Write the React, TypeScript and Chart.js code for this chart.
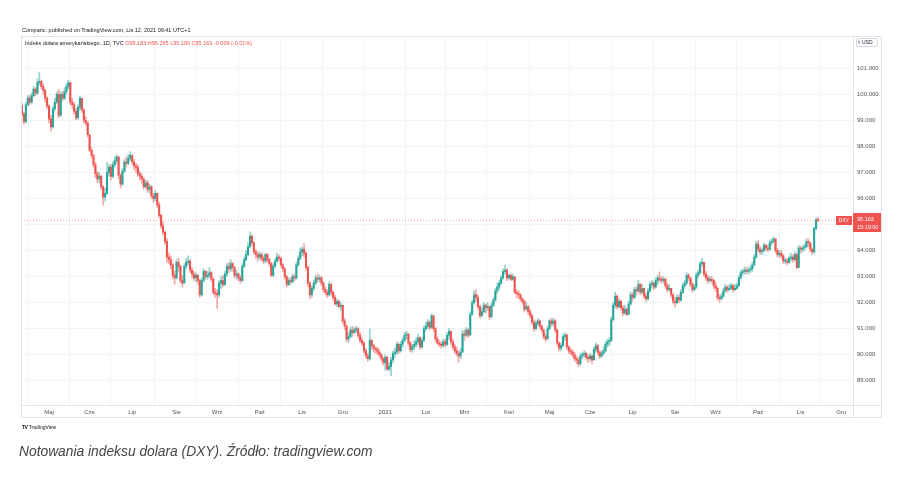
import React, { useEffect, useRef } from 'react';
import { Chart, registerables } from 'chart.js';
Chart.register(...registerables);

// Daily DXY candles, mid-April 2020 .. 12 Nov 2021 (index = trading day)
const CLOSE = [
  99.25, 98.95, 99.60, 99.85, 99.70, 99.95, 100.20, 100.05, 100.45, 100.50,
  100.30, 100.15, 99.85, 99.55, 99.05, 98.75, 99.45, 99.70, 100.00, 99.20,
  100.00, 99.85, 100.10, 100.30, 100.45, 99.70, 99.60, 99.35, 99.10, 99.50,
  99.85, 99.40, 99.00, 98.90, 98.45, 97.85, 97.65, 97.30, 96.95, 96.75,
  96.85, 96.45, 96.05, 96.20, 97.00, 97.20, 96.85, 97.30, 97.45, 97.60,
  96.90, 96.55, 97.05, 97.40, 97.35, 97.55, 97.65, 97.40, 97.25, 97.20,
  96.95, 96.85, 96.75, 96.45, 96.60, 96.35, 96.45, 96.10, 96.00, 96.20,
  95.75, 95.35, 94.95, 94.70, 94.35, 93.75, 93.65, 93.45, 93.05, 92.95,
  93.55, 93.40, 92.85, 92.75, 93.40, 93.55, 93.60, 93.25, 93.10, 92.95,
  93.05, 92.85, 92.30, 92.85, 93.20, 93.00, 93.05, 93.15, 92.90, 92.40,
  92.35, 92.30, 92.75, 92.85, 92.70, 93.10, 93.40, 93.30, 93.50, 93.35,
  93.05, 93.10, 92.95, 92.85, 93.40, 93.65, 93.85, 94.15, 94.55, 94.30,
  93.95, 93.85, 93.75, 93.85, 93.70, 93.60, 93.85, 93.65, 93.50, 93.05,
  93.40, 93.60, 93.75, 93.70, 93.45, 93.30, 93.00, 92.70, 92.85, 92.80,
  93.00, 92.95, 93.45, 93.70, 93.95, 94.05, 93.90, 93.35, 92.75, 92.30,
  92.55, 92.75, 92.95, 92.90, 92.95, 92.75, 92.50, 92.40, 92.30, 92.70,
  92.40, 92.20, 91.95, 92.05, 91.85, 91.90, 91.30, 91.10, 90.60, 90.70,
  90.95, 90.85, 90.95, 91.00, 90.75, 90.55, 90.45, 90.15, 89.95, 89.85,
  90.55, 90.35, 90.25, 90.20, 90.10, 90.00, 89.85, 89.70, 89.90, 89.45,
  89.55, 89.80, 90.05, 90.10, 90.40, 90.15, 90.40, 90.55, 90.75, 90.80,
  90.45, 90.20, 90.30, 90.40, 90.50, 90.65, 90.30, 90.55, 91.00, 91.10,
  91.25, 91.05, 91.50, 91.00, 90.60, 90.45, 90.40, 90.35, 90.50, 90.40,
  90.75, 90.90, 90.50, 90.30, 90.15, 90.05, 89.95, 90.10, 90.80, 90.75,
  90.95, 90.75, 91.55, 92.00, 92.30, 92.20, 91.85, 91.50, 91.65, 91.90,
  91.80, 91.85, 91.45, 91.90, 92.10, 92.45, 92.60, 92.75, 92.95, 93.20,
  93.25, 92.95, 93.05, 92.90, 93.00, 92.40, 92.35, 92.30, 92.15, 92.05,
  91.75, 91.85, 91.65, 91.50, 91.25, 91.00, 91.20, 91.30, 91.10, 90.95,
  90.70, 90.60, 91.00, 91.30, 91.20, 91.30, 90.95, 90.45, 90.25, 90.35,
  90.70, 90.75, 90.30, 90.15, 90.10, 90.00, 89.85, 89.80, 89.65, 89.95,
  90.00, 90.05, 89.90, 89.85, 89.95, 89.80, 90.20, 90.35, 90.10, 89.95,
  90.05, 90.15, 90.40, 90.50, 90.55, 91.35, 91.90, 92.25, 91.85, 92.05,
  91.80, 91.60, 91.75, 91.55, 91.95, 92.30, 92.20, 92.50, 92.45, 92.70,
  92.40, 92.55, 92.25, 92.15, 92.45, 92.70, 92.75, 92.60, 92.85, 92.95,
  92.90, 92.85, 92.90, 92.65, 92.50, 92.55, 92.30, 92.05, 92.00, 92.20,
  92.10, 92.40, 92.65, 92.75, 93.05, 92.95, 92.70, 92.50, 92.60, 93.05,
  93.15, 93.50, 93.55, 93.10, 92.95, 92.85, 92.90, 92.85, 92.65, 92.55,
  92.20, 92.15, 92.25, 92.45, 92.60, 92.50, 92.55, 92.65, 92.50, 92.55,
  92.65, 92.95, 93.15, 93.20, 93.25, 93.20, 93.25, 93.30, 93.45, 93.75,
  94.25, 94.05, 93.95, 94.00, 94.20, 94.10, 94.05, 94.30, 94.35, 94.45,
  94.00, 93.85, 93.90, 93.80, 93.60, 93.60, 93.55, 93.70, 93.75, 93.65,
  93.85, 93.35, 94.10, 94.05, 94.10, 94.15, 94.35, 94.30, 94.05, 93.95,
  94.85, 95.183, 95.163,
];

const HIGH = [
  99.65, 99.30, 99.70, 99.95, 99.95, 100.05, 100.30, 100.25, 100.60, 100.85,
  100.55, 100.40, 100.20, 99.90, 99.60, 99.20, 99.55, 99.85, 100.10, 100.20,
  100.10, 100.10, 100.25, 100.40, 100.55, 100.45, 99.85, 99.70, 99.45, 99.60,
  99.93, 99.85, 99.45, 99.15, 98.95, 98.40, 97.95, 97.70, 97.40, 97.05,
  97.00, 96.90, 96.50, 96.40, 97.40, 97.30, 97.30, 97.40, 97.60, 97.68,
  97.60, 96.95, 97.15, 97.50, 97.60, 97.70, 97.80, 97.70, 97.50, 97.35,
  97.30, 97.05, 96.95, 96.80, 96.70, 96.70, 96.55, 96.50, 96.20, 96.30,
  96.20, 95.85, 95.40, 95.10, 94.75, 94.45, 93.90, 93.80, 93.50, 93.20,
  93.65, 93.70, 93.45, 93.05, 93.50, 93.70, 93.80, 93.65, 93.35, 93.20,
  93.15, 93.10, 92.90, 92.95, 93.30, 93.25, 93.20, 93.35, 93.20, 92.95,
  92.55, 92.50, 92.85, 93.00, 93.05, 93.20, 93.50, 93.55, 93.65, 93.55,
  93.40, 93.25, 93.15, 93.05, 93.50, 93.75, 94.00, 94.30, 94.72, 94.60,
  94.35, 94.05, 93.95, 93.95, 93.90, 93.80, 93.90, 93.90, 93.70, 93.55,
  93.50, 93.70, 93.90, 93.85, 93.75, 93.50, 93.35, 93.05, 92.95, 92.95,
  93.10, 93.10, 93.55, 93.80, 94.10, 94.14, 94.27, 93.95, 93.40, 92.80,
  92.65, 92.85, 93.05, 93.10, 93.05, 93.00, 92.80, 92.60, 92.50, 92.80,
  92.75, 92.45, 92.30, 92.15, 92.10, 92.00, 91.90, 91.40, 91.15, 90.85,
  91.05, 91.10, 91.05, 91.10, 91.05, 90.85, 90.65, 90.50, 90.25, 90.05,
  91.00, 90.60, 90.40, 90.30, 90.30, 90.20, 90.05, 89.90, 90.00, 89.95,
  89.70, 89.90, 90.15, 90.25, 90.50, 90.45, 90.50, 90.65, 90.85, 90.90,
  90.80, 90.50, 90.40, 90.55, 90.65, 90.80, 90.70, 90.65, 91.10, 91.25,
  91.35, 91.30, 91.57, 91.45, 91.05, 90.70, 90.55, 90.50, 90.60, 90.60,
  90.85, 91.00, 90.90, 90.60, 90.40, 90.30, 90.15, 90.25, 90.93, 90.95,
  91.05, 91.00, 91.65, 92.10, 92.45, 92.50, 92.30, 91.90, 91.80, 92.00,
  91.95, 92.00, 91.85, 92.00, 92.20, 92.55, 92.75, 92.85, 93.05, 93.30,
  93.44, 93.30, 93.10, 93.10, 93.10, 92.95, 92.50, 92.45, 92.35, 92.20,
  92.10, 92.00, 91.90, 91.75, 91.55, 91.35, 91.30, 91.40, 91.35, 91.15,
  91.00, 90.80, 91.10, 91.35, 91.40, 91.40, 91.35, 91.00, 90.50, 90.45,
  90.80, 90.85, 90.80, 90.35, 90.25, 90.20, 90.10, 89.95, 89.90, 90.05,
  90.10, 90.16, 90.10, 90.00, 90.05, 90.00, 90.30, 90.45, 90.40, 90.15,
  90.15, 90.30, 90.50, 90.60, 90.65, 91.45, 92.00, 92.40, 92.30, 92.15,
  92.10, 91.90, 91.90, 91.80, 92.05, 92.40, 92.40, 92.60, 92.60, 92.86,
  92.75, 92.70, 92.55, 92.35, 92.55, 92.80, 92.86, 92.80, 92.95, 93.05,
  93.18, 93.00, 93.00, 92.95, 92.75, 92.70, 92.55, 92.35, 92.20, 92.30,
  92.30, 92.50, 92.75, 92.85, 93.15, 93.12, 92.95, 92.80, 92.70, 93.15,
  93.25, 93.60, 93.70, 93.55, 93.20, 93.05, 93.00, 93.00, 92.90, 92.80,
  92.60, 92.30, 92.35, 92.55, 92.70, 92.65, 92.70, 92.75, 92.70, 92.70,
  92.75, 93.05, 93.24, 93.30, 93.37, 93.35, 93.35, 93.40, 93.55, 93.85,
  94.35, 94.40, 94.15, 94.10, 94.30, 94.25, 94.20, 94.40, 94.45, 94.53,
  94.45, 94.10, 94.00, 94.00, 93.85, 93.70, 93.70, 93.80, 93.90, 93.85,
  93.95, 93.90, 94.20, 94.15, 94.20, 94.25, 94.45, 94.45, 94.30, 94.10,
  94.90, 95.25, 95.265,
];

const LOW = [
  99.15, 98.85, 98.90, 99.55, 99.60, 99.65, 99.90, 99.95, 100.00, 100.35,
  100.20, 100.00, 99.70, 99.45, 98.90, 98.58, 98.70, 99.35, 99.65, 99.10,
  99.15, 99.75, 99.80, 100.00, 100.20, 99.60, 99.45, 99.25, 99.03, 99.05,
  99.40, 99.30, 98.90, 98.80, 98.35, 97.80, 97.55, 97.20, 96.80, 96.60,
  96.60, 96.35, 95.73, 95.90, 96.15, 96.85, 96.70, 96.80, 97.20, 97.35,
  96.75, 96.40, 96.50, 97.00, 97.20, 97.30, 97.45, 97.30, 97.10, 97.00,
  96.85, 96.70, 96.60, 96.35, 96.40, 96.25, 96.20, 96.00, 95.85, 95.90,
  95.65, 95.25, 94.85, 94.60, 94.25, 93.55, 93.50, 93.30, 92.90, 92.70,
  92.90, 93.20, 92.75, 92.60, 92.75, 93.30, 93.45, 93.15, 92.95, 92.85,
  92.80, 92.70, 92.20, 92.25, 92.80, 92.90, 92.90, 92.95, 92.80, 92.30,
  92.20, 91.78, 92.20, 92.55, 92.60, 92.65, 93.00, 93.15, 93.20, 93.20,
  92.95, 92.90, 92.85, 92.75, 92.80, 93.35, 93.60, 93.80, 94.10, 94.20,
  93.85, 93.70, 93.60, 93.65, 93.60, 93.50, 93.55, 93.55, 93.40, 93.00,
  93.00, 93.35, 93.55, 93.60, 93.35, 93.20, 92.90, 92.60, 92.65, 92.70,
  92.75, 92.85, 92.90, 93.40, 93.65, 93.80, 93.75, 93.25, 92.60, 92.15,
  92.20, 92.45, 92.70, 92.80, 92.80, 92.65, 92.40, 92.30, 92.20, 92.25,
  92.30, 92.10, 91.90, 91.85, 91.80, 91.70, 91.20, 90.95, 90.50, 90.47,
  90.65, 90.70, 90.80, 90.85, 90.65, 90.45, 90.35, 90.05, 89.85, 89.75,
  89.80, 90.20, 90.10, 90.05, 90.00, 89.90, 89.75, 89.60, 89.40, 89.40,
  89.40, 89.20, 89.70, 89.90, 90.00, 90.05, 90.10, 90.30, 90.50, 90.60,
  90.35, 90.10, 90.10, 90.20, 90.30, 90.40, 90.20, 90.25, 90.50, 90.90,
  91.00, 90.95, 91.00, 90.90, 90.50, 90.40, 90.30, 90.25, 90.30, 90.30,
  90.35, 90.60, 90.40, 90.20, 90.05, 89.95, 89.71, 89.85, 90.10, 90.55,
  90.70, 90.65, 90.80, 91.50, 91.95, 92.05, 91.75, 91.40, 91.45, 91.60,
  91.60, 91.70, 91.35, 91.45, 91.85, 92.05, 92.35, 92.50, 92.70, 92.90,
  93.10, 92.85, 92.90, 92.85, 92.85, 92.35, 92.20, 92.15, 92.05, 91.95,
  91.65, 91.70, 91.55, 91.40, 91.15, 90.90, 90.95, 91.10, 91.00, 90.85,
  90.60, 90.50, 90.60, 90.95, 91.10, 91.10, 90.85, 90.35, 90.15, 90.15,
  90.30, 90.55, 90.20, 90.05, 90.00, 89.90, 89.75, 89.65, 89.55, 89.60,
  89.85, 89.90, 89.80, 89.70, 89.75, 89.65, 89.80, 90.10, 90.00, 89.85,
  89.90, 90.00, 90.10, 90.30, 90.35, 90.50, 91.30, 91.80, 91.75, 91.80,
  91.70, 91.50, 91.55, 91.50, 91.55, 91.90, 92.05, 92.15, 92.30, 92.40,
  92.30, 92.35, 92.15, 92.05, 92.10, 92.40, 92.55, 92.50, 92.55, 92.70,
  92.80, 92.75, 92.75, 92.55, 92.40, 92.45, 92.20, 91.95, 91.83, 91.95,
  92.00, 92.05, 92.35, 92.55, 92.70, 92.85, 92.60, 92.40, 92.45, 92.55,
  92.95, 93.10, 93.40, 93.00, 92.85, 92.75, 92.80, 92.75, 92.55, 92.45,
  92.10, 92.02, 92.10, 92.20, 92.40, 92.40, 92.45, 92.50, 92.40, 92.45,
  92.50, 92.60, 92.90, 93.05, 93.10, 93.10, 93.10, 93.15, 93.20, 93.40,
  93.70, 93.95, 93.85, 93.85, 93.95, 94.00, 93.95, 94.00, 94.20, 94.30,
  93.90, 93.75, 93.75, 93.70, 93.50, 93.50, 93.45, 93.50, 93.60, 93.55,
  93.60, 93.30, 93.35, 93.90, 93.95, 94.00, 94.10, 94.15, 93.95, 93.85,
  93.90, 94.80, 95.10,
];

const FIRST_OPEN = 99.55;
const LAST_PRICE = 95.163;

const MONTH_TICKS = [14, 35, 57, 80, 101, 123, 145, 166, 188, 209, 229, 252, 273, 294, 316, 338, 359, 381, 403, 424];
const MONTH_LABELS = ['Maj', 'Cze', 'Lip', 'Sie', 'Wrz', 'Paź', 'Lis', 'Gru', '2021', 'Lut', 'Mrz', 'Kwi', 'Maj', 'Cze', 'Lip', 'Sie', 'Wrz', 'Paź', 'Lis', 'Gru'];
const PRICE_TICKS = [89, 90, 91, 92, 93, 94, 95, 96, 97, 98, 99, 100, 101];

const UP = '#26a69a';
const DOWN = '#ef5350';
const UP_WICK = 'rgba(38,166,154,0.5)';
const DOWN_WICK = 'rgba(239,83,80,0.5)';
const FONT = '"Liberation Sans", Arial, sans-serif';
const BORDER = '#e0e3eb';
const GRID = '#f3f4f6';

const overlayPlugin = {
  id: 'tvOverlay',
  afterDatasetsDraw(chart: any) {
    const { ctx, chartArea, scales } = chart;
    const y = scales.y.getPixelForValue(LAST_PRICE);
    ctx.save();
    ctx.strokeStyle = 'rgba(239,83,80,0.5)';
    ctx.lineWidth = 1;
    ctx.setLineDash([1, 2]);
    ctx.beginPath();
    ctx.moveTo(chartArea.left, Math.round(y) + 0.5);
    ctx.lineTo(chartArea.right, Math.round(y) + 0.5);
    ctx.stroke();
    ctx.restore();
  },
  afterDraw(chart: any) {
    const { ctx, chartArea, scales } = chart;
    const y = Math.round(scales.y.getPixelForValue(LAST_PRICE));
    ctx.save();
    // frame
    ctx.strokeStyle = BORDER;
    ctx.lineWidth = 1;
    ctx.strokeRect(21.5, 36.5, 860, 381);
    ctx.beginPath();
    ctx.moveTo(chartArea.right + 0.5, 36);
    ctx.lineTo(chartArea.right + 0.5, 418);
    ctx.moveTo(21, chartArea.bottom + 0.5);
    ctx.lineTo(882, chartArea.bottom + 0.5);
    ctx.stroke();
    // DXY tag
    ctx.fillStyle = DOWN;
    ctx.fillRect(chartArea.right - 17, y - 4, 16, 9);
    ctx.fillStyle = '#ffffff';
    ctx.font = `5px ${FONT}`;
    ctx.textBaseline = 'middle';
    ctx.textAlign = 'center';
    ctx.fillText('DXY', chartArea.right - 9, y + 0.5);
    // price tag
    ctx.fillStyle = DOWN;
    ctx.fillRect(chartArea.right, y - 7, 28, 19);
    ctx.fillStyle = '#ffffff';
    ctx.textAlign = 'left';
    ctx.font = `5.5px ${FONT}`;
    ctx.fillText(LAST_PRICE.toFixed(3), chartArea.right + 4, y - 1);
    ctx.fillText('15:19:00', chartArea.right + 4, y + 7);
    // currency box
    ctx.strokeStyle = '#d1d4dc';
    ctx.beginPath();
    ctx.roundRect(856.5, 38.5, 21, 8, 2);
    ctx.stroke();
    ctx.fillStyle = '#131722';
    ctx.font = `5px ${FONT}`;
    ctx.fillText('USD', 862, 42.8);
    ctx.fillStyle = '#787b86';
    ctx.fillRect(858, 41, 2, 0.8);
    ctx.fillRect(858, 42.5, 2, 0.8);
    ctx.restore();
  },
};

export default function App() {
  const ref = useRef<HTMLCanvasElement>(null);

  useEffect(() => {
    if (!ref.current) return;
    const opens = CLOSE.map((c, i) => (i === 0 ? FIRST_OPEN : CLOSE[i - 1]));
    const isUp = CLOSE.map((c, i) => c >= opens[i]);
    const labelMap: Record<number, string> = {};
    MONTH_TICKS.forEach((v, i) => (labelMap[v] = MONTH_LABELS[i]));

    const chart = new Chart(ref.current, {
      type: 'bar',
      data: {
        datasets: [
          {
            data: CLOSE.map((_, i) => ({ x: i, y: [LOW[i], HIGH[i]] })) as any,
            backgroundColor: isUp.map((u) => (u ? UP_WICK : DOWN_WICK)),
            barThickness: 1,
            grouped: false,
            borderWidth: 0,
            order: 2,
          },
          {
            data: CLOSE.map((c, i) => ({ x: i, y: [opens[i], c] })) as any,
            backgroundColor: isUp.map((u) => (u ? UP : DOWN)),
            barThickness: 1.4,
            grouped: false,
            borderWidth: 0,
            minBarLength: 1,
            order: 1,
          },
        ],
      },
      options: {
        animation: false,
        responsive: false,
        maintainAspectRatio: false,
        events: [],
        layout: { padding: { left: 21, top: 36, right: 22, bottom: 63 } },
        plugins: { legend: { display: false }, tooltip: { enabled: false } },
        scales: {
          x: {
            type: 'linear',
            min: -0.518,
            max: 430.1,
            offset: false,
            grid: { color: GRID, drawTicks: false, lineWidth: 1 },
            border: { display: false },
            ticks: {
              autoSkip: false,
              maxRotation: 0,
              padding: 4,
              color: '#50535e',
              font: { size: 6, family: FONT },
              callback: (v: any) => labelMap[v] ?? '',
            },
            afterBuildTicks: (s: any) => {
              s.ticks = MONTH_TICKS.map((v) => ({ value: v }));
            },
            afterFit: (s: any) => {
              s.height = 13;
            },
          },
          y: {
            type: 'linear',
            position: 'right',
            min: 88.07,
            max: 102.24,
            grid: { color: GRID, drawTicks: false, lineWidth: 1 },
            border: { display: false },
            ticks: {
              padding: 4,
              color: '#50535e',
              font: { size: 6, family: FONT },
              callback: (v: any) => Number(v).toFixed(3),
            },
            afterBuildTicks: (s: any) => {
              s.ticks = PRICE_TICKS.map((v) => ({ value: v }));
            },
            afterFit: (s: any) => {
              s.width = 29;
            },
          },
        },
      } as any,
      plugins: [overlayPlugin],
    });
    return () => chart.destroy();
  }, []);

  const small: React.CSSProperties = {
    position: 'absolute',
    fontFamily: FONT,
    fontSize: '5.5px',
    lineHeight: '7px',
    whiteSpace: 'nowrap',
    color: '#131722',
  };

  return (
    <div style={{ position: 'absolute', left: 0, top: 0, width: 904, height: 481, background: '#ffffff', overflow: 'hidden' }}>
      <canvas ref={ref} width={904} height={481} style={{ position: 'absolute', left: 0, top: 0, width: 904, height: 481 }} />
      <div style={{ ...small, left: 22, top: 27 }}>Comparic: published on TradingView.com, Lis 12, 2021 09:41 UTC+1</div>
      <div style={{ ...small, left: 25, top: 40 }}>
        Indeks dolara amerykańskiego, 1D, TVC{'  '}
        <span style={{ color: DOWN }}>
          <span>O</span>95.183 <span>H</span>95.265 <span>L</span>95.100 <span>C</span>95.163 -0.009 (-0.01%)
        </span>
      </div>
      <div style={{ ...small, left: 22, top: 424, fontSize: '5px' }}>
        <span style={{ fontWeight: 900, letterSpacing: '-0.5px' }}>TV</span> TradingView
      </div>
      <div
        style={{
          position: 'absolute',
          left: 19,
          top: 443,
          fontFamily: FONT,
          fontStyle: 'italic',
          fontSize: '13.8px',
          lineHeight: '18px',
          color: '#444444',
          whiteSpace: 'nowrap',
        }}
      >
        Notowania indeksu dolara (DXY). Źródło: tradingview.com
      </div>
    </div>
  );
}
